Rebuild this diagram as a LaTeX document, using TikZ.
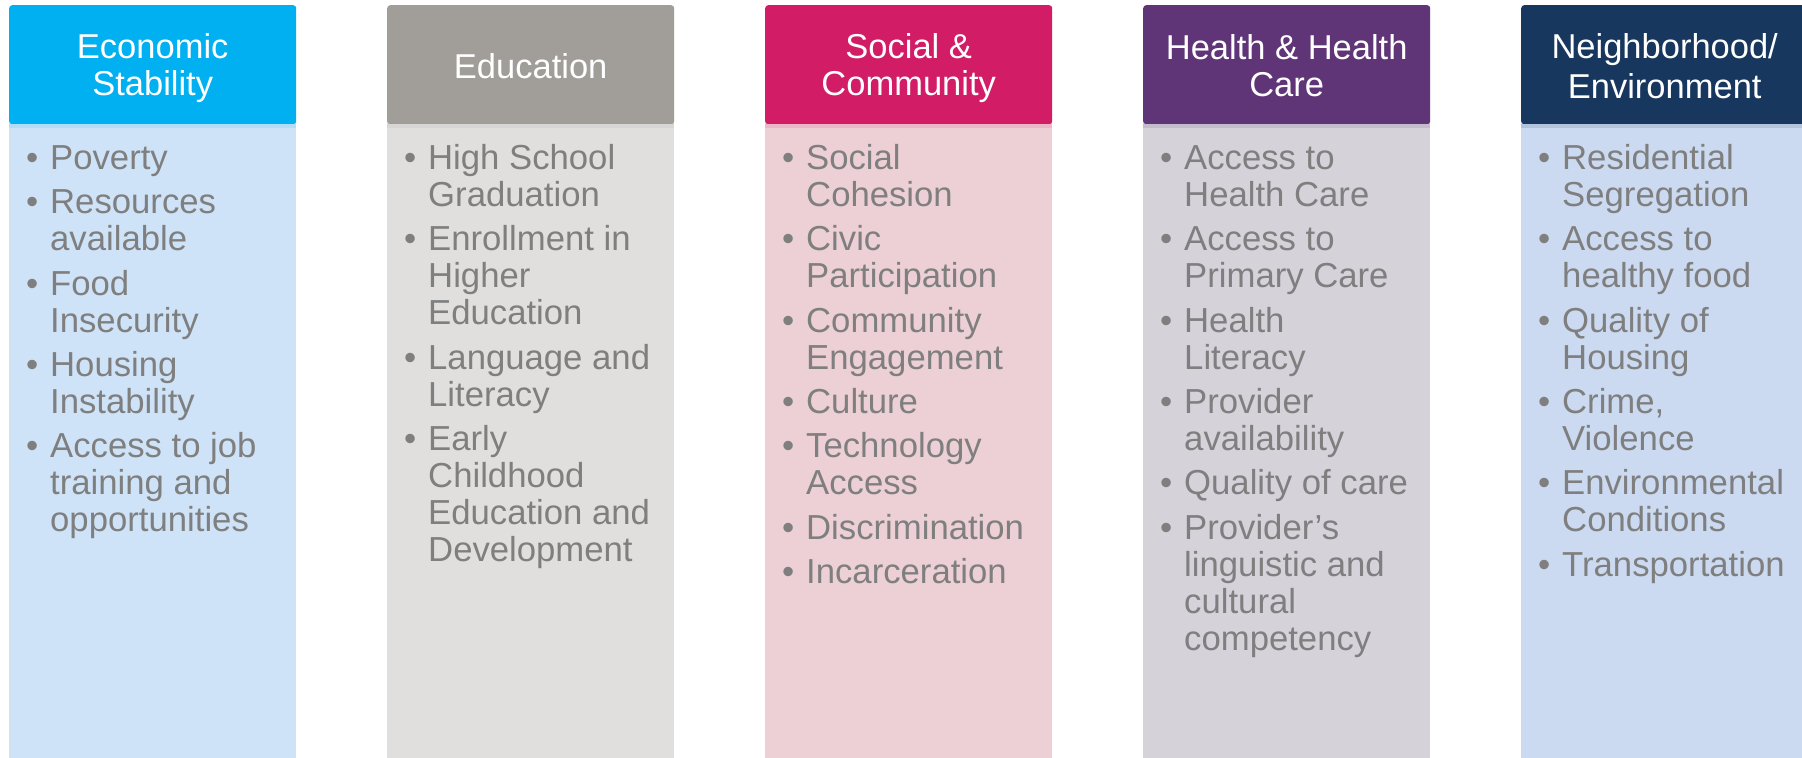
\documentclass[tikz,border=0pt]{standalone}
\usepackage{fontspec}
\setmainfont{Liberation Sans}

% header fills
\definecolor{headA}{HTML}{00B0F0}
\definecolor{headB}{HTML}{A19D99}
\definecolor{headC}{HTML}{D21C66}
\definecolor{headD}{HTML}{5F3577}
\definecolor{headE}{HTML}{17375E}
% column fills
\definecolor{bodyA}{HTML}{CFE3F8}
\definecolor{bodyB}{HTML}{E0DFDE}
\definecolor{bodyC}{HTML}{EDD0D6}
\definecolor{bodyD}{HTML}{D5D2DA}
\definecolor{bodyE}{HTML}{CBDAF0}
\definecolor{itemgray}{HTML}{7F7F7F}

% struts keep every line at the same height and depth
\newcommand\headline{\rule[-4.5bp]{0pt}{36bp}}
\newcommand\bulletline{\llap{\textbullet\hspace{12bp}}\rule[-8bp]{0pt}{36bp}}
\newcommand\contline{\rule[-8bp]{0pt}{36bp}}

\begin{document}
\begin{tikzpicture}[x=1bp,y=-1bp,
  colbody/.style={rectangle,draw=none,inner sep=0pt,minimum width=287bp,
    minimum height=660bp,anchor=north west},
  colband/.style={rectangle,draw=none,inner sep=0pt,minimum width=287bp,
    minimum height=4bp,anchor=north west},
  colhead/.style={rectangle,draw=none,rounded corners=3bp,inner sep=0pt,
    minimum width=287bp,minimum height=119bp,anchor=north west,
    text=white,align=center,font=\fontsize{34.5bp}{37bp}\selectfont},
  entry/.style={anchor=north west,inner sep=0pt,align=left,text=itemgray,
    font=\fontsize{34.7bp}{37bp}\selectfont},
  next/.style={entry,yshift=-8bp}]
\useasboundingbox (0,0) rectangle (1802,758);
\clip (0,0) rectangle (1802,758);

% columns: body, header, thin band under the header
\foreach \i/\hc/\bc/\txt in {
    1/headA/bodyA/{\headline Economic\\\headline Stability},
    2/headB/bodyB/{\headline Education},
    3/headC/bodyC/{\headline Social \&\\\headline Community},
    4/headD/bodyD/{\headline Health \& Health\\\headline Care},
    5/headE/bodyE/{\headline Neighborhood/\\\headline Environment}}{
  \pgfmathsetmacro\L{9+378*(\i-1)}
  \node[colbody,fill=\bc] (body\i) at (\L,110) {};
  \node[colhead,fill=\hc] (head\i) at (\L,5) {\txt};
  \node[colband,fill=\bc!86!\hc] (band\i) at (\L,124) {};
}

% Economic Stability
\node[entry] (ec1) at (50,141) {\bulletline Poverty};
\node[next] (ec2) at (ec1.south west) {\bulletline Resources\\\contline available};
\node[next] (ec3) at (ec2.south west) {\bulletline Food\\\contline Insecurity};
\node[next] (ec4) at (ec3.south west) {\bulletline Housing\\\contline Instability};
\node[next] (ec5) at (ec4.south west) {\bulletline Access to job\\\contline training and\\\contline opportunities};

% Education
\node[entry] (ed1) at (428,141) {\bulletline High School\\\contline Graduation};
\node[next] (ed2) at (ed1.south west) {\bulletline Enrollment in\\\contline Higher\\\contline Education};
\node[next] (ed3) at (ed2.south west) {\bulletline Language and\\\contline Literacy};
\node[next] (ed4) at (ed3.south west) {\bulletline Early\\\contline Childhood\\\contline Education and\\\contline Development};

% Social & Community
\node[entry] (sc1) at (806,141) {\bulletline Social\\\contline Cohesion};
\node[next] (sc2) at (sc1.south west) {\bulletline Civic\\\contline Participation};
\node[next] (sc3) at (sc2.south west) {\bulletline Community\\\contline Engagement};
\node[next] (sc4) at (sc3.south west) {\bulletline Culture};
\node[next] (sc5) at (sc4.south west) {\bulletline Technology\\\contline Access};
\node[next] (sc6) at (sc5.south west) {\bulletline Discrimination};
\node[next] (sc7) at (sc6.south west) {\bulletline Incarceration};

% Health & Health Care
\node[entry] (hc1) at (1184,141) {\bulletline Access to\\\contline Health Care};
\node[next] (hc2) at (hc1.south west) {\bulletline Access to\\\contline Primary Care};
\node[next] (hc3) at (hc2.south west) {\bulletline Health\\\contline Literacy};
\node[next] (hc4) at (hc3.south west) {\bulletline Provider\\\contline availability};
\node[next] (hc5) at (hc4.south west) {\bulletline Quality of care};
\node[next] (hc6) at (hc5.south west) {\bulletline Provider’s\\\contline linguistic and\\\contline cultural\\\contline competency};

% Neighborhood/Environment
\node[entry] (ne1) at (1562,141) {\bulletline Residential\\\contline Segregation};
\node[next] (ne2) at (ne1.south west) {\bulletline Access to\\\contline healthy food};
\node[next] (ne3) at (ne2.south west) {\bulletline Quality of\\\contline Housing};
\node[next] (ne4) at (ne3.south west) {\bulletline Crime,\\\contline Violence};
\node[next] (ne5) at (ne4.south west) {\bulletline Environmental\\\contline Conditions};
\node[next] (ne6) at (ne5.south west) {\bulletline Transportation};
\end{tikzpicture}
\end{document}
